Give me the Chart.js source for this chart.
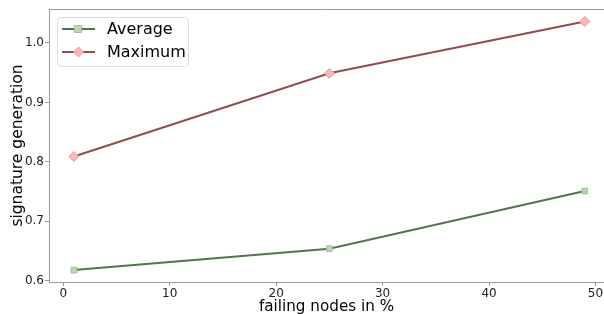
<!DOCTYPE html>
<html>
<head>
<meta charset="utf-8">
<script src="https://cdn.jsdelivr.net/npm/chart.js@4/dist/chart.umd.min.js"></script>
<style>
  html, body { margin: 0; padding: 0; background: #fff; }
  #wrap { width: 604px; height: 314px; }
</style>
</head>
<body>
<div id="wrap"><canvas id="chart"></canvas></div>
<script>
// failing nodes (%) and signature generation values
const failingNodes = [1, 25, 49];
const averageValues = [0.618, 0.654, 0.751];
const maximumValues = [0.809, 0.949, 1.036];
const xTicks = [0, 10, 20, 30, 40, 50];
const yTicks = [0.6, 0.7, 0.8, 0.9, 1.0];

const font = "'DejaVu Sans', sans-serif";
const spine = "#9a9a9a";

function points(values) {
  return failingNodes.map((x, i) => ({ x: x, y: values[i] }));
}

// top spine + boxed legend drawn by hand
const extras = {
  id: "extras",
  afterDraw(chart) {
    const ctx = chart.ctx;
    const area = chart.chartArea;
    ctx.save();
    ctx.strokeStyle = spine;
    ctx.lineWidth = 1;
    ctx.beginPath();
    ctx.moveTo(area.left, area.top + 0.5);
    ctx.lineTo(area.right, area.top + 0.5);
    ctx.stroke();

    // legend box
    const bx = 57, by = 17, bw = 131, bh = 49;
    ctx.fillStyle = "rgba(255,255,255,0.8)";
    ctx.strokeStyle = "#dcdcdc";
    ctx.beginPath();
    ctx.roundRect(bx + 0.5, by + 0.5, bw, bh, 4);
    ctx.fill();
    ctx.stroke();

    chart.data.datasets.forEach((ds, i) => {
      const cy = by + 12 + i * 23;
      ctx.strokeStyle = ds.borderColor;
      ctx.lineWidth = 2;
      ctx.beginPath();
      ctx.moveTo(62, cy);
      ctx.lineTo(95, cy);
      ctx.stroke();
      ctx.fillStyle = ds.pointBackgroundColor;
      ctx.strokeStyle = ds.pointBorderColor;
      ctx.lineWidth = 1;
      ctx.beginPath();
      if (ds.pointStyle === "rectRot") {
        ctx.moveTo(78.5, cy - 5);
        ctx.lineTo(83.5, cy);
        ctx.lineTo(78.5, cy + 5);
        ctx.lineTo(73.5, cy);
        ctx.closePath();
      } else {
        ctx.rect(74.5, cy - 3.5, 7, 7);
      }
      ctx.fill();
      ctx.stroke();
      ctx.fillStyle = "#000";
      ctx.font = "16px " + font;
      ctx.textBaseline = "middle";
      ctx.fillText(ds.label, 107, cy + 1);
    });
    ctx.restore();
  }
};

new Chart(document.getElementById("chart"), {
  type: "line",
  data: {
    datasets: [
      {
        label: "Average",
        data: points(averageValues),
        borderColor: "#52764c",
        borderWidth: 2,
        pointStyle: "rect",
        pointRadius: 4,
        pointBackgroundColor: "#b8d8b2",
        pointBorderColor: "#9cc196",
        pointBorderWidth: 1
      },
      {
        label: "Maximum",
        data: points(maximumValues),
        borderColor: "#904e4e",
        borderWidth: 2,
        pointStyle: "rectRot",
        pointRadius: 5,
        pointBackgroundColor: "#f6b8b8",
        pointBorderColor: "#e69a9a",
        pointBorderWidth: 1
      }
    ]
  },
  options: {
    responsive: true,
    maintainAspectRatio: false,
    animation: false,
    layout: { autoPadding: false, padding: { top: 9, right: 0, left: 0, bottom: 0 } },
    plugins: { legend: { display: false }, tooltip: { enabled: false } },
    scales: {
      x: {
        type: "linear",
        min: -1.34,
        max: 50.8,
        afterBuildTicks: (axis) => { axis.ticks = xTicks.map(v => ({ value: v })); },
        afterFit: (axis) => {
          axis.height = 32;
          axis.paddingLeft = 0;
          axis.paddingRight = 0;
        },
        grid: { drawOnChartArea: false, tickLength: 4, color: spine },
        border: { color: spine, width: 1 },
        ticks: { color: "#222", font: { family: font, size: 12 }, padding: 1 },
        title: { display: true, text: "failing nodes in %", color: "#000", font: { family: font, size: 15.2 }, padding: { top: 0, bottom: -2 } }
      },
      y: {
        min: 0.598,
        max: 1.057,
        afterBuildTicks: (axis) => { axis.ticks = yTicks.map(v => ({ value: v })); },
        afterFit: (axis) => {
          axis.width = 49;
          axis.paddingTop = 0;
          axis.paddingBottom = 0;
        },
        grid: { drawOnChartArea: false, tickLength: 4, color: spine },
        border: { color: spine, width: 1 },
        ticks: { color: "#222", font: { family: font, size: 12 }, padding: 1, callback: (v) => v.toFixed(1) },
        title: { display: true, text: "signature generation", color: "#000", font: { family: font, size: 15.5 }, padding: { top: 9, bottom: 0 } }
      }
    }
  },
  plugins: [extras]
});
</script>
</body>
</html>
